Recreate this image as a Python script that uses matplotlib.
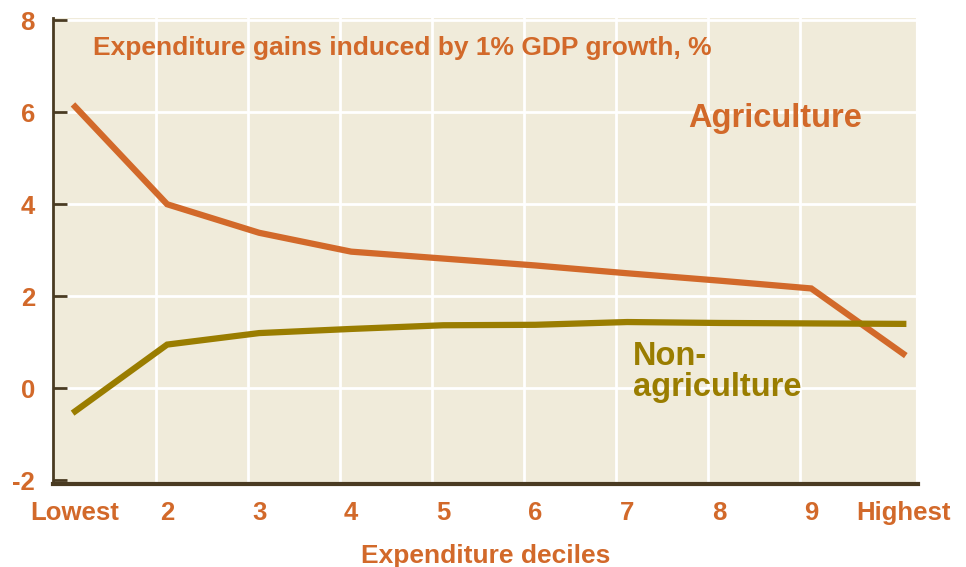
import numpy as np
import matplotlib
matplotlib.use('Agg')
import matplotlib.pyplot as plt

# Data
deciles = ['Lowest', '2', '3', '4', '5', '6', '7', '8', '9', 'Highest']
agriculture = [6.12, 4.0, 3.38, 2.97, 2.82, 2.67, 2.5, 2.34, 2.17, 0.75]
non_agriculture = [-0.5, 0.95, 1.2, 1.29, 1.37, 1.38, 1.44, 1.42, 1.41, 1.4]
y_ticks = [-2, 0, 2, 4, 6, 8]

orange = '#D2692A'
olive = '#9A7D00'
bg = '#F0EBDA'
axis_col = '#4A3B22'

plt.rcParams['font.family'] = ['Liberation Sans', 'DejaVu Sans']
plt.rcParams['font.weight'] = 'bold'

fig = plt.figure(figsize=(9.66, 5.67), dpi=100)
ax = fig.add_axes([0.0549, 0.1464, 0.8954, 0.822])
ax.set_facecolor(bg)

x = np.arange(1, len(deciles) + 1)
ax.plot(x, agriculture, color=orange, lw=4.5, solid_joinstyle='miter', zorder=3)
ax.plot(x, non_agriculture, color=olive, lw=4.5, solid_joinstyle='miter', zorder=3)

ax.set_xlim(0.76, 10.16)
ax.set_ylim(-2.08, 8.05)

# white grid
for v in y_ticks[1:]:
    ax.axhline(v, color='white', lw=2, zorder=1)
for v in x[1:-1]:
    ax.axvline(v - 0.12, color='white', lw=2, zorder=1)
ax.axvline(10.16, color='white', lw=3, zorder=1)

ax.set_yticks(y_ticks)
ax.set_yticklabels([str(t) for t in y_ticks])
ax.set_xticks(x)
ax.set_xticklabels(deciles)
ax.tick_params(axis='y', direction='in', length=10, width=2, color=axis_col,
               labelcolor=orange, labelsize=18.5, pad=13)
ax.tick_params(axis='x', length=0, labelcolor=orange, labelsize=18.5, pad=12)
for lab in ax.get_xticklabels() + ax.get_yticklabels():
    lab.set_fontweight('bold')

for s in ['top', 'right']:
    ax.spines[s].set_visible(False)
ax.spines['left'].set_color(axis_col)
ax.spines['left'].set_linewidth(2)
ax.spines['bottom'].set_color(axis_col)
ax.spines['bottom'].set_linewidth(3)

ax.set_xlabel('Expenditure deciles', color=orange, fontsize=19, fontweight='bold', labelpad=14)

ax.text(0.046, 0.935, 'Expenditure gains induced by 1% GDP growth, %', transform=ax.transAxes,
        color=orange, fontsize=19, fontweight='bold', va='center')
ax.text(0.734, 0.785, 'Agriculture', transform=ax.transAxes,
        color=orange, fontsize=23.5, fontweight='bold', va='center')
ax.text(0.67, 0.24, 'Non-\nagriculture', transform=ax.transAxes,
        color=olive, fontsize=23.5, fontweight='bold', va='center', linespacing=1.03)

fig.savefig('out.png', dpi=100, facecolor='white')
